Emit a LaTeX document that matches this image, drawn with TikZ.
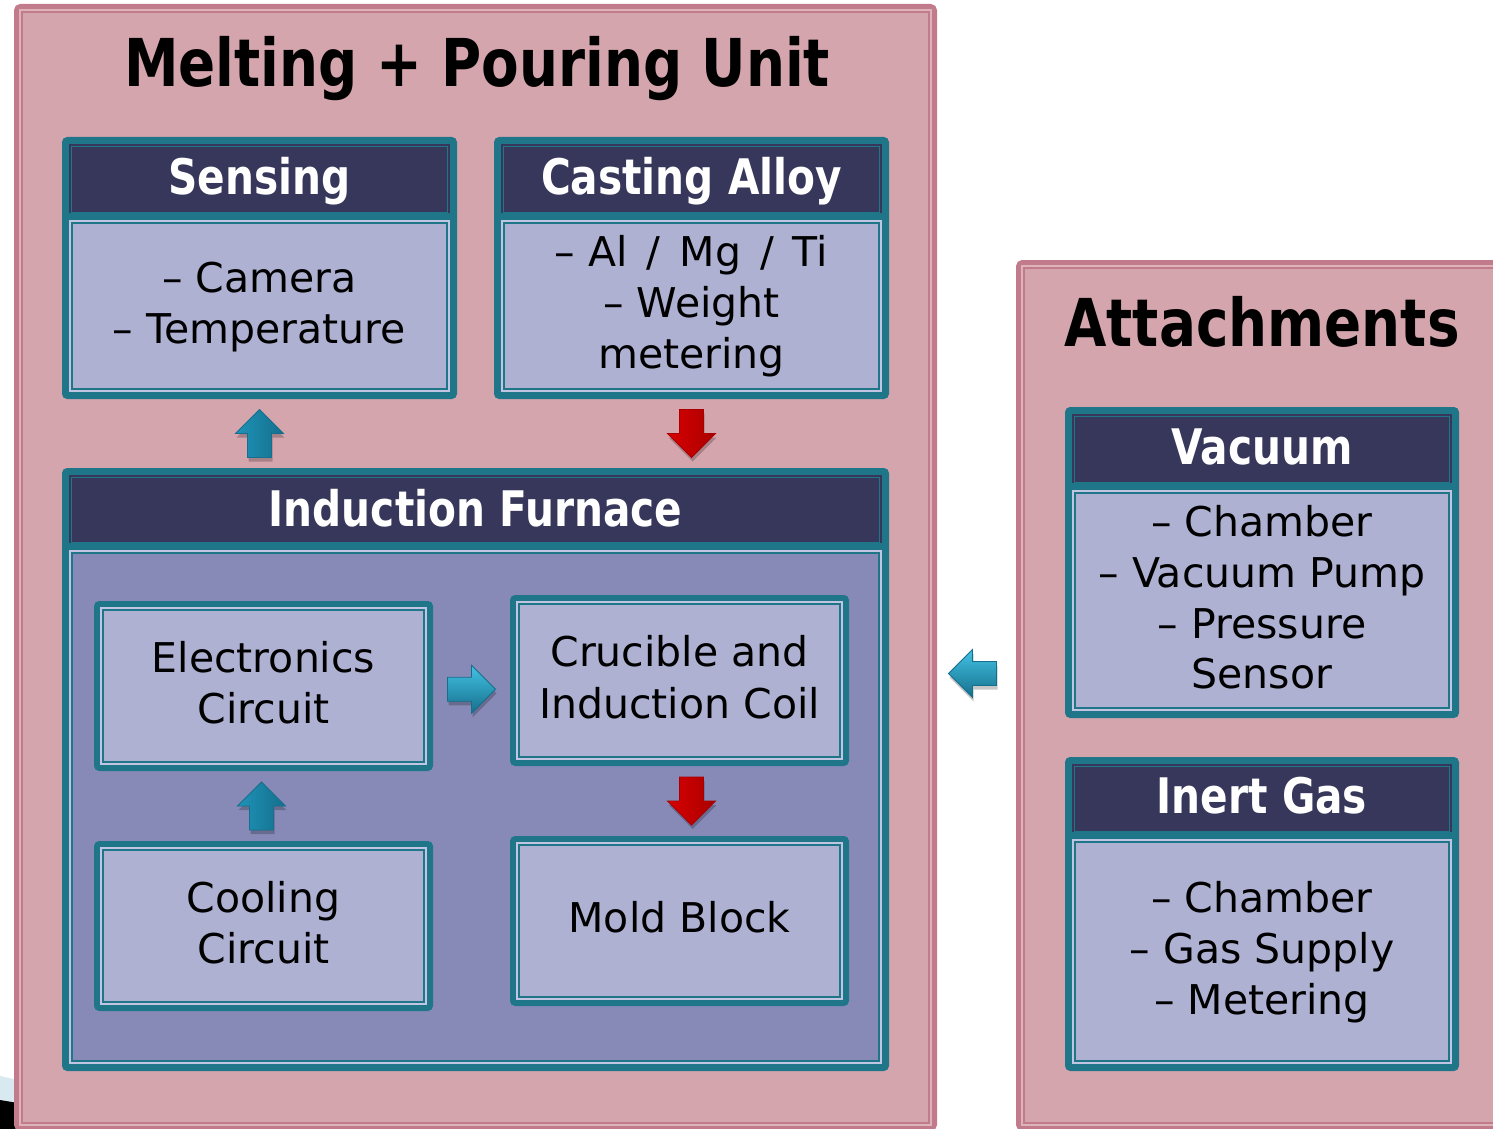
\documentclass[tikz,border=0pt]{standalone}
\usepackage{fontspec}
\setmainfont{DejaVu Sans}
\newfontfamily\hdrfont[FakeStretch=0.83]{DejaVu Sans Bold}
\usetikzlibrary{calc}

\definecolor{pinkfill}{HTML}{D5A5AE}
\definecolor{rose}{HTML}{C27B8A}
\definecolor{pinklight}{HTML}{DDB3BB}
\definecolor{tealb}{HTML}{1F7689}
\definecolor{darkhdr}{HTML}{36375A}
\definecolor{bodyfill}{HTML}{AEB1D2}
\definecolor{bodyline}{HTML}{C2C5E2}
\definecolor{furnfill}{HTML}{878AB7}
\definecolor{abluel}{HTML}{43C2E4}
\definecolor{ablue}{HTML}{1E93B8}
\definecolor{abluedark}{HTML}{156F8C}
\definecolor{aredl}{HTML}{FF2A2A}
\definecolor{ared}{HTML}{D80000}
\definecolor{areddark}{HTML}{A80000}
\definecolor{fragblue}{HTML}{D9E9F0}

% panel: name, x1, y1, x2, y2 (outer edges)
\newcommand\panelbox[5]{%
  \node[panelnode, anchor=north west, minimum width={#4-#2-5}, minimum height={#5-#3-5}] (#1) at ({#2+2.5},{#3+2.5}) {};
  \draw[pinklight, line width=2] ({#2+6},{#3+6}) rectangle ({#4-6},{#5-6});
  \draw[rose, line width=2] ({#2+8},{#3+8}) rectangle ({#4-8},{#5-8});
}
% headed box: name, x1, y1, x2, y2, body colour, header bottom
\newcommand\headbox[7]{%
  \node[tealnode, anchor=north west, minimum width={#4-#2}, minimum height={#5-#3}] (#1) at (#2,#3) {};
  \fill[darkhdr] ({#2+7},{#3+7}) rectangle ({#4-7},{#7});
  \draw[tealb, line width=1.5] ({#2+9.5},{#3+9.5}) rectangle ({#4-9.5},{#7});
  \fill[bodyline] ({#2+7},{#7+7}) rectangle ({#4-7},{#5-7});
  \draw[tealb, line width=2, fill=#6] ({#2+10},{#7+10}) rectangle ({#4-10},{#5-10});
}
% simple box: name, x1, y1, x2, y2
\newcommand\simplebox[5]{%
  \node[tealnode, anchor=north west, minimum width={#4-#2}, minimum height={#5-#3}] (#1) at (#2,#3) {};
  \fill[bodyline] ({#2+6},{#3+6}) rectangle ({#4-6},{#5-6});
  \draw[tealb, line width=2, fill=bodyfill] ({#2+9},{#3+9}) rectangle ({#4-9},{#5-9});
}
% block arrow: coordinate, rotation, style
\newcommand\blockarrow[3]{%
  \fill[black, opacity=.22, shift={($(#1)+(1,4)$)}, rotate=#2]
    (-24,-12) -- (0,-12) -- (0,-24) -- (24,0) -- (0,24) -- (0,12) -- (-24,12) -- cycle;
  \path[#3, shift={(#1)}, rotate=#2]
    (-24,-12) -- (0,-12) -- (0,-24) -- (24,0) -- (0,24) -- (0,12) -- (-24,12) -- cycle;
}

\begin{document}
\begin{tikzpicture}[x=1pt, y=-1pt,
  panelnode/.style={draw=rose, line width=5, fill=pinkfill, rounded corners=4, inner sep=0, outer sep=0},
  tealnode/.style={fill=tealb, rounded corners=5, inner sep=0, outer sep=0},
  titletext/.style={font=\hdrfont\fontsize{66}{72}\selectfont, text=black, inner sep=0},
  hdrtext/.style={font=\hdrfont\fontsize{49}{56}\selectfont, text=white, inner sep=0},
  bodytext/.style={font=\fontsize{41}{51}\selectfont, text=black, inner sep=0},
  bluearrowV/.style={draw=abluedark, line width=0.8, left color=ablue, middle color=abluel, right color=abluedark},
  bluearrowH/.style={draw=abluedark, line width=0.8, top color=abluel, middle color=ablue, bottom color=abluedark},
  redarrowV/.style={draw=areddark, line width=0.8, left color=ared, middle color=aredl, right color=areddark}
]
\useasboundingbox (0,0) rectangle (1493,1129);
\clip (0,0) rectangle (1493,1129);
\fill[white] (0,0) rectangle (1493,1129);

% fragment bottom-left
\fill[fragblue] (0,1076) -- (18,1080) -- (18,1129) -- (0,1129) -- cycle;
\fill[black] (0,1100) -- (18,1103) -- (18,1129) -- (0,1129) -- cycle;

% panels
\panelbox{main}{14}{4}{937}{1131}
\panelbox{att}{1016}{260}{1520}{1131}

\node[titletext, anchor=base] (mtitle) at (477,87) {Melting + Pouring Unit};
\node[titletext, anchor=base] (atitle) at (1262,346) {Attachments};

% boxes
\headbox{sens}{62}{137}{457}{399}{bodyfill}{213}
\headbox{cast}{494}{137}{889}{399}{bodyfill}{213}
\headbox{furn}{62}{468}{889}{1071}{furnfill}{543}
\simplebox{elec}{94}{601}{433}{771}
\simplebox{cruc}{510}{595}{849}{766}
\simplebox{cool}{94}{841}{433}{1011}
\simplebox{mold}{510}{836}{849}{1006}
\headbox{vac}{1065}{407}{1459}{718}{bodyfill}{483}
\headbox{inert}{1065}{757}{1459}{1071}{bodyfill}{832}

% headers
\node[hdrtext, anchor=base] (sensH) at (259.5,194) {Sensing};
\node[hdrtext, anchor=base] (castH) at (691.5,194) {Casting Alloy};
\node[hdrtext, anchor=base] (furnH) at (475.5,526) {Induction Furnace};
\node[hdrtext, anchor=base] (vacH) at (1262,464) {Vacuum};
\node[hdrtext, anchor=base] (inertH) at (1262,813) {Inert Gas};

% body texts
\node[bodytext, anchor=base] (sens1) at (259.5,292.5) {– Camera};
\node[bodytext, anchor=base] (sens2) at (259.5,343) {– Temperature};
\node[bodytext, anchor=base] (cast1) at (691.5,266) {– Al\hskip19pt/\hskip19pt Mg\hskip19pt/\hskip19pt Ti};
\node[bodytext, anchor=base] (cast2) at (691.5,317) {– Weight};
\node[bodytext, anchor=base] (cast3) at (691.5,368) {metering};
\node[bodytext, anchor=base] (elec1) at (263.5,672) {Electronics};
\node[bodytext, anchor=base] (elec2) at (263.5,723) {Circuit};
\node[bodytext, anchor=base] (cruc1) at (679.5,666) {Crucible and};
\node[bodytext, anchor=base] (cruc2) at (679.5,718) {Induction Coil};
\node[bodytext, anchor=base] (cool1) at (263.5,912) {Cooling};
\node[bodytext, anchor=base] (cool2) at (263.5,963) {Circuit};
\node[bodytext, anchor=base] (mold1) at (679.5,932) {Mold Block};
\node[bodytext, anchor=base] (vac1) at (1262,536) {– Chamber};
\node[bodytext, anchor=base] (vac2) at (1262,587) {– Vacuum Pump};
\node[bodytext, anchor=base] (vac3) at (1262,638) {– Pressure};
\node[bodytext, anchor=base] (vac4) at (1262,688.5) {Sensor};
\node[bodytext, anchor=base] (inert1) at (1262,912) {– Chamber};
\node[bodytext, anchor=base] (inert2) at (1262,963) {– Gas Supply};
\node[bodytext, anchor=base] (inert3) at (1262,1014) {– Metering};

% connectors (block arrows)
\coordinate (a1) at ($(sens.south)!0.5!(sens.south |- furn.north)$);
\coordinate (a2) at ($(cast.south)!0.5!(cast.south |- furn.north)$);
\coordinate (a3) at ($(elec.east)!0.5!(cruc.west)+(0,6)$);
\coordinate (a4) at ($(elec.south)!0.5!(cool.north)+(-2,0)$);
\coordinate (m5) at ($(cruc.south)!0.5!(mold.north)$);
\coordinate (a5) at (cast.south |- m5);
\coordinate (m6a) at (main.east |- cruc.center);
\coordinate (m6b) at (att.west |- cruc.center);
\coordinate (a6) at ($(m6a)!0.5!(m6b)+(-4,-7)$);

\blockarrow{a1}{90}{bluearrowV}
\blockarrow{a2}{-90}{redarrowV}
\blockarrow{a3}{0}{bluearrowH}
\blockarrow{a4}{90}{bluearrowV}
\blockarrow{a5}{-90}{redarrowV}
\blockarrow{a6}{180}{bluearrowH}
\end{tikzpicture}
\end{document}
